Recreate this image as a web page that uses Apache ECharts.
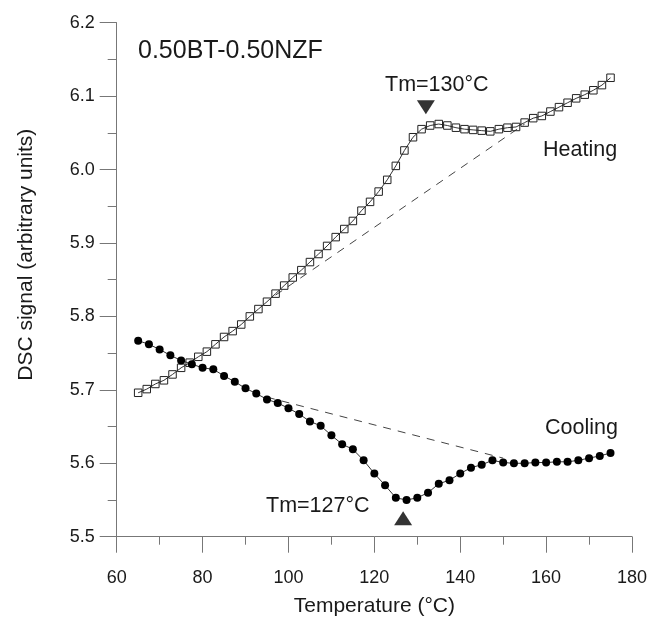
<!DOCTYPE html>
<html>
<head>
<meta charset="utf-8">
<script src="https://cdn.jsdelivr.net/npm/echarts@6/dist/echarts.min.js"></script>
<style>
  html, body { margin: 0; padding: 0; background: #fff; }
  #chart { width: 655px; height: 619px; }
</style>
</head>
<body>
<div id="chart"></div>
<script>
// heating run, every 2 °C
var heatT = [65, 67, 69, 71, 73, 75, 77, 79, 81, 83, 85, 87, 89, 91, 93, 95, 97, 99, 101, 103,
  105, 107, 109, 111, 113, 115, 117, 119, 121, 123, 125, 127, 129, 131, 133, 135, 137, 139, 141, 143,
  145, 147, 149, 151, 153, 155, 157, 159, 161, 163, 165, 167, 169, 171, 173, 175];
var heatDSC = [5.696, 5.701, 5.708, 5.713, 5.721, 5.730, 5.737, 5.745, 5.752, 5.762,
  5.772, 5.780, 5.789, 5.800, 5.810, 5.820, 5.831, 5.842, 5.853, 5.863,
  5.874, 5.885, 5.896, 5.908, 5.919, 5.930, 5.944, 5.956, 5.970, 5.986,
  6.005, 6.026, 6.044, 6.055, 6.060, 6.062, 6.060, 6.057, 6.055, 6.054,
  6.053, 6.052, 6.055, 6.057, 6.058, 6.064, 6.070, 6.073, 6.079, 6.085,
  6.091, 6.097, 6.102, 6.108, 6.115, 6.125];

// cooling run, every 2.5 °C
var coolT = [65, 67.5, 70, 72.5, 75, 77.5, 80, 82.5, 85, 87.5, 90, 92.5, 95, 97.5, 100,
  102.5, 105, 107.5, 110, 112.5, 115, 117.5, 120, 122.5, 125, 127.5, 130, 132.5, 135, 137.5,
  140, 142.5, 145, 147.5, 150, 152.5, 155, 157.5, 160, 162.5, 165, 167.5, 170, 172.5, 175];
var coolDSC = [5.767, 5.762, 5.755, 5.747, 5.740, 5.735, 5.730, 5.728, 5.719, 5.711,
  5.702, 5.695, 5.687, 5.682, 5.675, 5.667, 5.657, 5.651, 5.638, 5.626,
  5.619, 5.604, 5.586, 5.570, 5.553, 5.550, 5.553, 5.560, 5.572, 5.577,
  5.586, 5.594, 5.598, 5.604, 5.601, 5.600, 5.600, 5.601, 5.601, 5.602,
  5.602, 5.604, 5.607, 5.610, 5.614];

// dashed baselines (start, end)
var heatBaseT = [97, 155];
var heatBaseDSC = [5.829, 6.062];
var coolBaseT = [95, 150];
var coolBaseDSC = [5.690, 5.607];

// Tm markers
var tmHeat = [132, 6.085];
var tmCool = [126.7, 5.525];

var xTicks = [60, 80, 100, 120, 140, 160, 180];

function zip(a, b) {
  return a.map(function (v, i) { return [v, b[i]]; });
}

var FONT = 'Liberation Sans, Arial, sans-serif';
var chart = echarts.init(document.getElementById('chart'));

var option = {
  backgroundColor: '#fff',
  animation: false,
  title: {
    text: '0.50BT-0.50NZF',
    left: 133,
    top: 34,
    textStyle: { fontFamily: FONT, fontSize: 25, fontWeight: 'normal', color: '#1a1a1a' }
  },
  grid: { left: 116.7, right: 23, top: 22.7, bottom: 82.3, outerBoundsMode: 'none' },
  xAxis: {
    type: 'value',
    min: xTicks[0],
    max: xTicks[xTicks.length - 1],
    interval: 20,
    name: 'Temperature (°C)',
    nameLocation: 'middle',
    nameGap: 59,
    nameTextStyle: { fontFamily: FONT, fontSize: 21, color: '#1a1a1a' },
    axisLine: { lineStyle: { color: '#777', width: 1 } },
    axisTick: { length: 16, lineStyle: { color: '#777' } },
    minorTick: { show: true, splitNumber: 2, length: 8, lineStyle: { color: '#777' } },
    splitLine: { show: false },
    axisLabel: { fontFamily: FONT, fontSize: 18, color: '#1a1a1a', margin: 32 }
  },
  yAxis: {
    type: 'value',
    min: 5.5,
    max: 6.2,
    interval: 0.1,
    name: 'DSC signal (arbitrary units)',
    nameLocation: 'middle',
    nameGap: 80,
    nameTextStyle: { fontFamily: FONT, fontSize: 21, color: '#1a1a1a', padding: [0, 0, 0, 50] },
    axisLine: { show: true, lineStyle: { color: '#777', width: 1 } },
    axisTick: { length: 17, lineStyle: { color: '#777' } },
    minorTick: { show: true, splitNumber: 2, length: 9, lineStyle: { color: '#777' } },
    splitLine: { show: false },
    axisLabel: {
      fontFamily: FONT, fontSize: 18, color: '#1a1a1a', margin: 22,
      formatter: function (v) { return v.toFixed(1); }
    }
  },
  series: [
    {
      name: 'Heating baseline',
      type: 'line',
      data: zip(heatBaseT, heatBaseDSC),
      symbol: 'none',
      lineStyle: { color: '#444', width: 1, type: [8, 7] },
      z: 1
    },
    {
      name: 'Cooling baseline',
      type: 'line',
      data: zip(coolBaseT, coolBaseDSC),
      symbol: 'none',
      lineStyle: { color: '#444', width: 1, type: [8, 7] },
      z: 1
    },
    {
      name: 'Heating',
      type: 'line',
      data: zip(heatT, heatDSC),
      symbol: 'rect',
      symbolSize: 7.5,
      itemStyle: { color: 'rgba(255,255,255,0)', borderColor: '#222', borderWidth: 1 },
      lineStyle: { color: '#333', width: 1 },
      z: 3
    },
    {
      name: 'Cooling',
      type: 'line',
      data: zip(coolT, coolDSC),
      symbol: 'circle',
      symbolSize: 8,
      itemStyle: { color: '#000', borderWidth: 0 },
      lineStyle: { color: '#333', width: 1 },
      z: 3
    },
    {
      name: 'Tm',
      type: 'scatter',
      symbol: 'triangle',
      symbolSize: [18, 14],
      itemStyle: { color: '#000' },
      data: [
        { value: tmHeat, symbolRotate: 180 },
        { value: tmCool }
      ],
      z: 4
    }
  ],
  graphic: [
    {
      type: 'text', left: 385, top: 74,
      style: { text: 'Tm=130°C', font: '21.5px ' + FONT, fill: '#1a1a1a' }
    },
    {
      type: 'text', left: 266, top: 495,
      style: { text: 'Tm=127°C', font: '21.5px ' + FONT, fill: '#1a1a1a' }
    },
    {
      type: 'text', left: 543, top: 139,
      style: { text: 'Heating', font: '21.5px ' + FONT, fill: '#1a1a1a' }
    },
    {
      type: 'text', left: 545, top: 417,
      style: { text: 'Cooling', font: '21.5px ' + FONT, fill: '#1a1a1a' }
    }
  ]
};

chart.setOption(option);
window.addEventListener('resize', function () {
  chart.resize();
});
</script>
</body>
</html>
